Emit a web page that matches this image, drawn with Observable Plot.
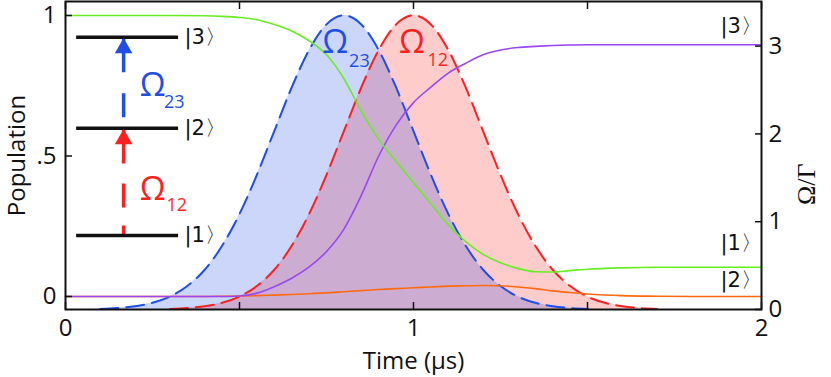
<!DOCTYPE html>
<html>
<head>
<meta charset="utf-8">
<script src="https://cdn.jsdelivr.net/npm/d3@7"></script>
<script src="https://cdn.jsdelivr.net/npm/@observablehq/plot@0.6"></script>
<style>
  html, body { margin: 0; padding: 0; background: #fff; }
  #chart svg { display: block; }
</style>
</head>
<body>
<div id="chart"></div>
<script>
// ---------- data ----------
const popTime = [0, 0.1, 0.2, 0.3, 0.4, 0.45, 0.5, 0.55, 0.6, 0.65, 0.7, 0.75, 0.8, 0.85, 0.9, 0.95, 1.0, 1.05, 1.1, 1.15, 1.2, 1.25, 1.3, 1.35, 1.4, 1.45, 1.5, 1.6, 1.7, 1.8, 1.9, 2.0];
const pop1 = [1, 1, 1, 1, 0.999, 0.997, 0.993, 0.985, 0.968, 0.945, 0.91, 0.86, 0.775, 0.66, 0.56, 0.48, 0.405, 0.33, 0.255, 0.195, 0.15, 0.12, 0.1, 0.088, 0.087, 0.092, 0.097, 0.102, 0.104, 0.104, 0.104, 0.104];
const pop2 = [0, 0, 0, 0, 0, 0.001, 0.002, 0.003, 0.005, 0.007, 0.01, 0.013, 0.017, 0.021, 0.025, 0.028, 0.031, 0.034, 0.037, 0.038, 0.039, 0.038, 0.034, 0.028, 0.02, 0.014, 0.009, 0.003, 0.001, 0, 0, 0];
const pop3 = [0, 0, 0, 0, 0, 0, 0.002, 0.012, 0.035, 0.065, 0.105, 0.16, 0.24, 0.36, 0.5, 0.61, 0.69, 0.745, 0.795, 0.83, 0.86, 0.877, 0.886, 0.89, 0.893, 0.895, 0.896, 0.896, 0.896, 0.896, 0.896, 0.896];

const omega23Time = [0.1, 0.15, 0.2, 0.25, 0.3, 0.35, 0.4, 0.45, 0.5, 0.55, 0.6, 0.65, 0.7, 0.75, 0.8, 0.85, 0.9, 0.95, 1.0, 1.05, 1.1, 1.15, 1.2, 1.25, 1.3, 1.35, 1.4, 1.45, 1.5];
const omega23 = [0.007, 0.017, 0.037, 0.076, 0.147, 0.267, 0.453, 0.725, 1.088, 1.534, 2.032, 2.529, 2.956, 3.247, 3.35, 3.247, 2.956, 2.529, 2.032, 1.534, 1.088, 0.725, 0.453, 0.267, 0.147, 0.076, 0.037, 0.017, 0.007];
const omega12Time = [0.3, 0.35, 0.4, 0.45, 0.5, 0.55, 0.6, 0.65, 0.7, 0.75, 0.8, 0.85, 0.9, 0.95, 1.0, 1.05, 1.1, 1.15, 1.2, 1.25, 1.3, 1.35, 1.4, 1.45, 1.5, 1.55, 1.6, 1.65, 1.7];
const omega12 = [0.007, 0.017, 0.037, 0.076, 0.147, 0.267, 0.453, 0.725, 1.088, 1.534, 2.032, 2.529, 2.956, 3.247, 3.35, 3.247, 2.956, 2.529, 2.032, 1.534, 1.088, 0.725, 0.453, 0.267, 0.147, 0.076, 0.037, 0.017, 0.007];

// axes
const popDomain = [-0.0463, 1.0498];
const omegaMax = 3.508;
const xTickMarks = [0, 0.5, 1, 1.5, 2];
const xTickLabels = [0, 1, 2];
const popTicks = [0, 0.5, 1];
const omegaTicks = [0, 1, 2, 3];

// level-scheme annotation (time / population units)
const levelNames = ["|1〉", "|2〉", "|3〉"];
const levelPop = [0.217, 0.599, 0.923];
const levelStart = [0.032, 0.032, 0.032];
const levelEnd = [0.325, 0.325, 0.325];
const levelLabelX = [0.342, 0.342, 0.342];
const arrowX = 0.167;

const endNames = ["|3〉", "|1〉", "|2〉"];
const endLabelX = [1.882, 1.882, 1.882];
const endLabelPop = [0.96, 0.19, 0.057];

const omegaNames = ["Ω", "Ω", "Ω", "Ω"];
const omegaSubs = ["23", "12", "23", "12"];
const omegaLabelX = [0.775, 0.995, 0.25, 0.25];
const omegaLabelPop = [0.905, 0.905, 0.75, 0.381];
const omegaSubX = [0.815, 1.04, 0.283, 0.29];
const omegaSubPop = [0.837, 0.84, 0.69, 0.323];

// ---------- build ----------
const BLUE = "#1f4fe8", RED = "#ff1f1f", GREEN = "#66ee22", PURPLE = "#9a46f5", ORANGE = "#ff6a10";
const omegaColors = [BLUE, RED, BLUE, RED];
const toPop = w => popDomain[0] + (w / omegaMax) * (popDomain[1] - popDomain[0]);
const fromPop = p => (p - popDomain[0]) / (popDomain[1] - popDomain[0]) * omegaMax;

const popRows = popTime.map((t, i) => ({t, p1: pop1[i], p2: pop2[i], p3: pop3[i]}));
const pulse23 = omega23Time.map((t, i) => ({t, p: toPop(omega23[i])}));
const pulse12 = omega12Time.map((t, i) => ({t, p: toPop(omega12[i])}));
const levels = levelNames.map((name, i) => ({name, p: levelPop[i], x1: levelStart[i], x2: levelEnd[i], lx: levelLabelX[i]}));
const ends = endNames.map((name, i) => ({name, x: endLabelX[i], p: endLabelPop[i]}));
const omegaLbls = omegaNames.map((n, i) => ({n, sub: omegaSubs[i], x: omegaLabelX[i], p: omegaLabelPop[i], sx: omegaSubX[i], sp: omegaSubPop[i], c: omegaColors[i]}));
const arrowRed = [{x: arrowX, from: levelPop[0], to: levelPop[1]}];
const arrowBlue = [{x: arrowX, from: levelPop[1], to: levelPop[2]}];

const font = "'Open Sans', sans-serif";
const ketFont = "'DejaVu Sans', sans-serif";

const chart = Plot.plot({
  width: 831,
  height: 377,
  marginTop: 1,
  marginRight: 70,
  marginBottom: 68,
  marginLeft: 65,
  style: {fontFamily: font, fontSize: "24px", color: "#111", background: "#fff", overflow: "visible"},
  x: {domain: [0, 2]},
  y: {domain: popDomain},
  marks: [
    Plot.areaY(pulse12, {x: "t", y1: () => popDomain[0], y2: "p", fill: "#ff0000", fillOpacity: 0.2, curve: "monotone-x"}),
    Plot.areaY(pulse23, {x: "t", y1: () => popDomain[0], y2: "p", fill: "#0033e6", fillOpacity: 0.2, curve: "monotone-x"}),
    Plot.lineY(pulse12, {x: "t", y: "p", stroke: RED, strokeWidth: 2, strokeDasharray: "18,8", curve: "monotone-x"}),
    Plot.lineY(pulse23, {x: "t", y: "p", stroke: BLUE, strokeWidth: 2, strokeDasharray: "18,8", curve: "monotone-x"}),
    Plot.lineY(popRows, {x: "t", y: "p2", stroke: ORANGE, strokeWidth: 1.6, curve: "monotone-x"}),
    Plot.lineY(popRows, {x: "t", y: "p3", stroke: PURPLE, strokeWidth: 1.6, curve: "monotone-x"}),
    Plot.lineY(popRows, {x: "t", y: "p1", stroke: GREEN, strokeWidth: 1.6, curve: "monotone-x"}),
    // level scheme
    Plot.link(arrowRed, {x1: "x", x2: "x", y1: "from", y2: "to", stroke: RED, strokeWidth: 3.5, strokeDasharray: "10,18,24,20,80"}),
    Plot.link(arrowBlue, {x1: "x", x2: "x", y1: "from", y2: "to", stroke: BLUE, strokeWidth: 3.5, strokeDasharray: "0,11,24,21,80"}),
    Plot.ruleY(levels, {y: "p", x1: "x1", x2: "x2", stroke: "#111", strokeWidth: 3.5}),
    Plot.dot(arrowRed, {x: "x", y: "to", symbol: "triangle", r: 6.5, fill: RED, stroke: "none", dy: 11}),
    Plot.dot(arrowBlue, {x: "x", y: "to", symbol: "triangle", r: 6.5, fill: BLUE, stroke: "none", dy: 11}),
    Plot.text(levels, {x: "lx", y: "p", text: "name", textAnchor: "start", lineAnchor: "middle", fontSize: 21, fontFamily: ketFont, fill: "#111"}),
    Plot.text(ends, {x: "x", y: "p", text: "name", textAnchor: "start", lineAnchor: "middle", fontSize: 21, fontFamily: ketFont, fill: "#111"}),
    Plot.text(omegaLbls, {x: "x", y: "p", text: "n", fill: "c", fontSize: 33, lineAnchor: "middle", textAnchor: "middle"}),
    Plot.text(omegaLbls, {x: "sx", y: "sp", text: "sub", fill: "c", fontSize: 18, lineAnchor: "middle", textAnchor: "start"}),
    Plot.frame({stroke: "#111", strokeWidth: 2}),
    // inward ticks
    Plot.axisX({anchor: "bottom", ticks: xTickMarks, tickSize: 7, dy: -7, fill: "none", label: null, strokeWidth: 1.5}),
    Plot.axisX({anchor: "top", ticks: xTickMarks, tickSize: 7, dy: 7, fill: "none", label: null, strokeWidth: 1.5}),
    Plot.axisY({anchor: "left", ticks: popTicks, tickSize: 7, dx: 7, fill: "none", label: null, strokeWidth: 1.5}),
    Plot.axisY({anchor: "right", ticks: omegaTicks.map(toPop), tickSize: 7, dx: -7, fill: "none", label: null, strokeWidth: 1.5}),
    // tick labels and titles
    Plot.axisX({anchor: "bottom", ticks: xTickLabels, tickSize: 0, tickPadding: 9, tickFormat: d => String(d), label: "Time (μs)", labelAnchor: "center", labelArrow: "none", labelOffset: 59}),
    Plot.axisY({anchor: "left", ticks: popTicks, tickSize: 0, tickPadding: 9, tickFormat: d => d === 0.5 ? ".5" : String(d), label: "Population", labelAnchor: "center", labelArrow: "none", labelOffset: 58}),
    Plot.axisY({anchor: "right", ticks: omegaTicks.map(toPop), tickSize: 0, tickPadding: 7, tickFormat: d => String(Math.round(fromPop(d))), label: null}),
    Plot.text(["Ω/Γ"], {frameAnchor: "right", text: d => d, dx: 45, dy: 8, rotate: -90, fontSize: 26, fontFamily: "'Liberation Serif', serif", fill: "#111"})
  ]
});
document.getElementById("chart").appendChild(chart);
</script>
</body>
</html>
